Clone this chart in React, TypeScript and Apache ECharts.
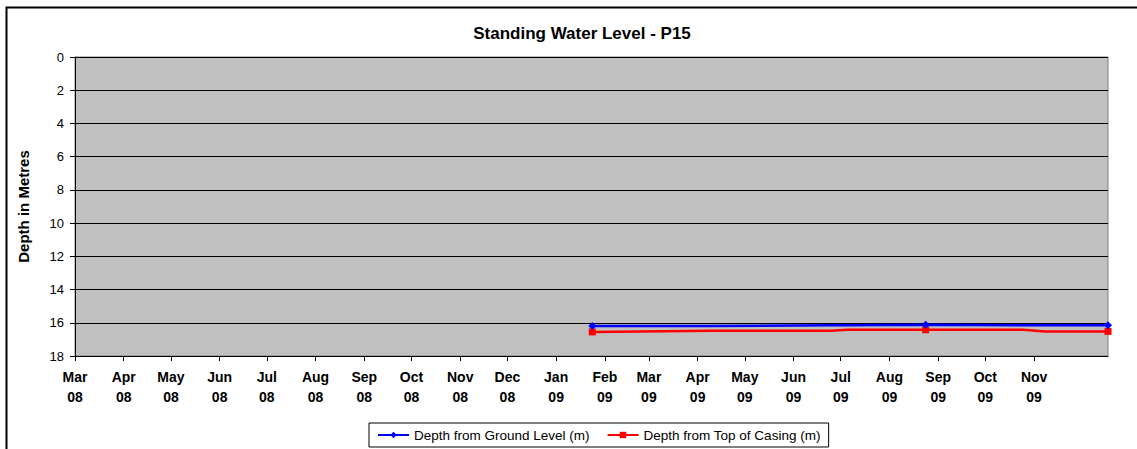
import React, { useEffect, useRef } from "react";
import * as echarts from "echarts";

// ---- data ----
const TITLE = "Standing Water Level - P15";
const Y_NAME = "Depth in Metres";
const SERIES_NAMES = ["Depth from Ground Level (m)", "Depth from Top of Casing (m)"];
const MONTH_NAMES = ["Jan", "Feb", "Mar", "Apr", "May", "Jun", "Jul", "Aug", "Sep", "Oct", "Nov", "Dec"];
const MONTH_TICKS = [
  "2008-03-01", "2008-04-01", "2008-05-01", "2008-06-01", "2008-07-01", "2008-08-01",
  "2008-09-01", "2008-10-01", "2008-11-01", "2008-12-01", "2009-01-01", "2009-02-01",
  "2009-03-01", "2009-04-01", "2009-05-01", "2009-06-01", "2009-07-01", "2009-08-01",
  "2009-09-01", "2009-10-01", "2009-11-01",
];
const AXIS_START = "2008-03-01";
const AXIS_END = "2009-12-18";
const DATES = ["2009-01-24", "2009-04-10", "2009-06-25", "2009-07-05", "2009-08-24", "2009-10-25", "2009-11-08", "2009-12-18"];
const MARKED = [true, false, false, false, true, false, false, true];
const GROUND_LEVEL = [16.2, 16.2, 16.15, 16.15, 16.12, 16.15, 16.15, 16.15];
const TOP_OF_CASING = [16.55, 16.48, 16.48, 16.42, 16.42, 16.42, 16.52, 16.52];

const toTs = (s: string) => {
  const [y, m, d] = s.split("-").map(Number);
  return Date.UTC(y, m - 1, d);
};

const buildData = (vals: number[], sym: string) =>
  DATES.map((d, i) => ({
    value: [toTs(d), vals[i]],
    symbol: MARKED[i] ? sym : "none",
  }));

export default function App() {
  const ref = useRef<HTMLDivElement>(null);
  useEffect(() => {
    if (!ref.current) return;
    const chart = echarts.init(ref.current, null, { renderer: "svg" });
    const font = "'Liberation Sans', Arial, sans-serif";
    const ticks = MONTH_TICKS.map(toTs);
    chart.setOption({
      animation: false,
      backgroundColor: "#ffffff",
      textStyle: { fontFamily: font },
      title: {
        text: TITLE,
        left: 577,
        top: 20,
        textAlign: "center",
        textStyle: { fontSize: 17, fontWeight: "bold", color: "#000", fontFamily: font },
      },
      graphic: [
        {
          type: "rect",
          shape: { x: 6.5, y: 7.5, width: 1150, height: 460 },
          style: { fill: "none", stroke: "#000", lineWidth: 2 },
          silent: true,
          z: -1,
        },
      ],
      legend: {
        left: 369,
        top: 423,
        padding: [5, 8, 5, 8],
        borderColor: "#000",
        borderWidth: 1,
        itemGap: 17,
        itemWidth: 31,
        itemHeight: 8,
        textStyle: { fontSize: 13.5, color: "#000", fontFamily: font },
        data: SERIES_NAMES,
      },
      grid: {
        left: 75,
        top: 57,
        right: 29,
        bottom: 93,
        show: true,
        backgroundColor: "#C0C0C0",
        borderColor: "#808080",
        borderWidth: 1,
        containLabel: false,
      },
      xAxis: {
        type: "value",
        min: toTs(AXIS_START),
        max: toTs(AXIS_END),
        axisLine: { show: true, onZero: false, lineStyle: { color: "#000", width: 1 } },
        axisTick: {
          show: true,
          length: 5,
          lineStyle: { color: "#000" },
          customValues: ticks,
        },
        axisLabel: {
          customValues: ticks,
          fontSize: 14,
          fontWeight: "bold",
          color: "#000",
          lineHeight: 20,
          margin: 11,
          fontFamily: font,
          showMinLabel: true,
          showMaxLabel: true,
          formatter: (v: number) => {
            const d = new Date(v);
            return MONTH_NAMES[d.getUTCMonth()] + "\n" + String(d.getUTCFullYear()).slice(2);
          },
        },
        splitLine: { show: false },
      },
      yAxis: {
        type: "value",
        inverse: true,
        min: 0,
        max: 18,
        interval: 2,
        name: Y_NAME,
        nameLocation: "middle",
        nameGap: 44,
        nameTextStyle: { fontSize: 15, fontWeight: "bold", color: "#000", fontFamily: font },
        axisLine: { show: true, lineStyle: { color: "#000", width: 1 } },
        axisTick: { show: true, length: 5, lineStyle: { color: "#000" } },
        axisLabel: { fontSize: 13, color: "#000", margin: 11, fontFamily: font },
        splitLine: { show: true, lineStyle: { color: "#000", width: 1 } },
      },
      series: [
        {
          name: SERIES_NAMES[0],
          type: "line",
          data: buildData(GROUND_LEVEL, "diamond"),
          symbol: "diamond",
          symbolSize: 8,
          color: "#0000FF",
          lineStyle: { color: "#0000FF", width: 2.5 },
          itemStyle: { color: "#0000FF" },
          z: 3,
        },
        {
          name: SERIES_NAMES[1],
          type: "line",
          data: buildData(TOP_OF_CASING, "rect"),
          symbol: "rect",
          symbolSize: 7,
          color: "#FF0000",
          lineStyle: { color: "#FF0000", width: 2.5 },
          itemStyle: { color: "#FF0000" },
          z: 2,
        },
      ],
    });
    return () => chart.dispose();
  }, []);
  return (
    <div
      ref={ref}
      style={{ position: "absolute", left: 0, top: 0, width: 1137, height: 449 }}
    />
  );
}
